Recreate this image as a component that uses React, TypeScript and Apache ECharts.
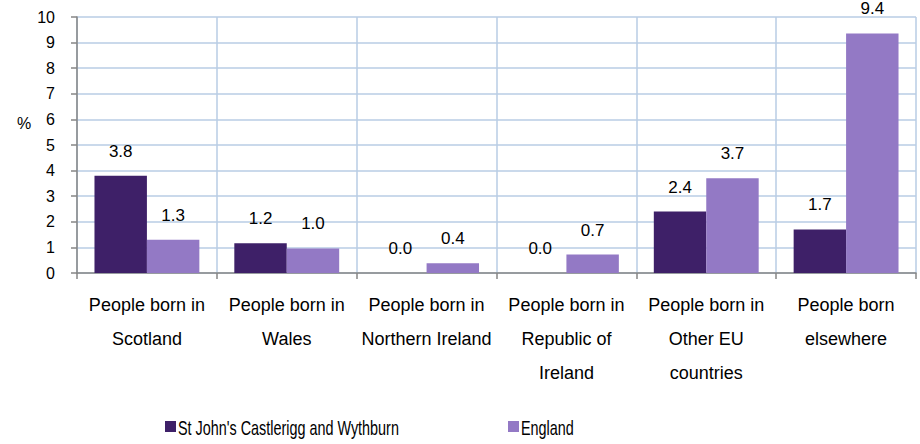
import React, { useEffect, useRef } from "react";
import * as echarts from "echarts";

const categories = [
  "People born in\nScotland",
  "People born in\nWales",
  "People born in\nNorthern Ireland",
  "People born in\nRepublic of\nIreland",
  "People born in\nOther EU\ncountries",
  "People born\nelsewhere",
];
const seriesNames = ["St John's Castlerigg and Wythburn", "England"];
const localValues = [3.8, 1.16, 0, 0, 2.4, 1.7];
const englandValues = [1.3, 0.96, 0.38, 0.72, 3.7, 9.36];
const yTicks = { min: 0, max: 10, interval: 1 };

const DARK = "#3e2068";
const LIGHT = "#9379c5";
const GRID = "#b9cde5";
const AXIS = "#868686";
const FONT = "Liberation Sans, Arial, sans-serif";

export default function App() {
  const ref = useRef<HTMLDivElement>(null);
  useEffect(() => {
    document.body.style.margin = "0";
    const chart = echarts.init(ref.current!, null, { renderer: "svg" });
    const label = {
      show: true,
      position: "top",
      distance: 16,
      color: "#000",
      fontSize: 17,
      fontFamily: FONT,
      formatter: (p: any) => Number(p.value).toFixed(1),
    };
    const legendItem = (name: string, color: string, x: number) => ({
      type: "group",
      left: x,
      top: 418,
      children: [
        { type: "rect", shape: { x: 0, y: 3, width: 11, height: 11 }, style: { fill: color } },
        {
          type: "text",
          x: 13,
          y: 0,
          scaleX: 0.72,
          style: { text: name, fontSize: 20, fontFamily: FONT, fill: "#000" },
        },
      ],
    });
    chart.setOption({
      animation: false,
      grid: { left: 77, right: 4, top: 17, bottom: 171 },
      graphic: [
        {
          type: "text",
          left: 17,
          top: 115,
          style: { text: "%", fontSize: 16, fontFamily: FONT, fill: "#000" },
        },
        legendItem(seriesNames[0], DARK, 165),
        legendItem(seriesNames[1], LIGHT, 508),
      ],
      xAxis: {
        type: "category",
        data: categories,
        axisLine: { show: true, lineStyle: { color: AXIS, width: 1.5 } },
        axisTick: { show: true, length: 6, lineStyle: { color: AXIS, width: 1.5 } },
        splitLine: { show: true, lineStyle: { color: GRID, width: 1.5 } },
        axisLabel: {
          interval: 0,
          margin: 15,
          fontSize: 18,
          lineHeight: 34,
          color: "#000",
          fontFamily: FONT,
        },
      },
      yAxis: {
        type: "value",
        min: yTicks.min,
        max: yTicks.max,
        interval: yTicks.interval,
        axisLine: { show: true, lineStyle: { color: AXIS, width: 1.5 } },
        axisTick: { show: true, length: 6, lineStyle: { color: AXIS, width: 1.5 } },
        splitLine: { show: true, lineStyle: { color: GRID, width: 1.5 } },
        axisLabel: { margin: 22, fontSize: 16, color: "#000", fontFamily: FONT },
      },
      series: [
        {
          name: seriesNames[0],
          type: "bar",
          data: localValues,
          barGap: "0%",
          barCategoryGap: "25%",
          itemStyle: { color: DARK },
          label,
        },
        {
          name: seriesNames[1],
          type: "bar",
          data: englandValues,
          barGap: "0%",
          barCategoryGap: "25%",
          itemStyle: { color: LIGHT },
          label,
        },
      ],
    });
    return () => chart.dispose();
  }, []);
  return <div ref={ref} style={{ width: 920, height: 444 }} />;
}
